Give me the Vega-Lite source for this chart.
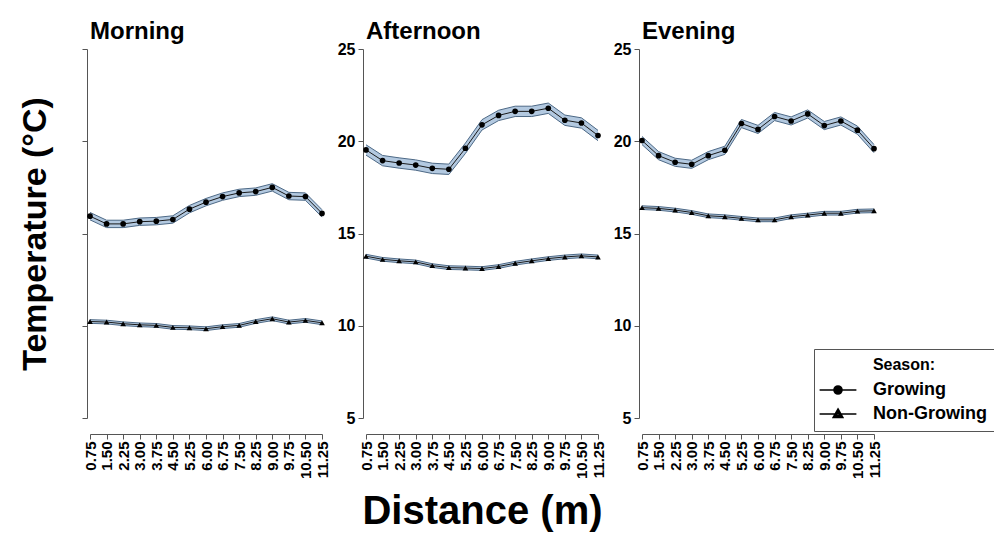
{
  "$schema": "https://vega.github.io/schema/vega-lite/v6.json",
  "padding": {"left": 18, "top": 19, "right": 0, "bottom": 0},
  "data": {"values": [
    {"p":"Morning","s":"Growing","d":0.75,"t":15.94,"e":0.2},
    {"p":"Morning","s":"Growing","d":1.5,"t":15.52,"e":0.2},
    {"p":"Morning","s":"Growing","d":2.25,"t":15.52,"e":0.2},
    {"p":"Morning","s":"Growing","d":3.0,"t":15.64,"e":0.2},
    {"p":"Morning","s":"Growing","d":3.75,"t":15.67,"e":0.2},
    {"p":"Morning","s":"Growing","d":4.5,"t":15.76,"e":0.2},
    {"p":"Morning","s":"Growing","d":5.25,"t":16.32,"e":0.2},
    {"p":"Morning","s":"Growing","d":6.0,"t":16.7,"e":0.2},
    {"p":"Morning","s":"Growing","d":6.75,"t":17.0,"e":0.2},
    {"p":"Morning","s":"Growing","d":7.5,"t":17.2,"e":0.2},
    {"p":"Morning","s":"Growing","d":8.25,"t":17.27,"e":0.2},
    {"p":"Morning","s":"Growing","d":9.0,"t":17.5,"e":0.2},
    {"p":"Morning","s":"Growing","d":9.75,"t":17.03,"e":0.2},
    {"p":"Morning","s":"Growing","d":10.5,"t":17.0,"e":0.2},
    {"p":"Morning","s":"Growing","d":11.25,"t":16.09,"e":0.2},
    {"p":"Morning","s":"Non-Growing","d":0.75,"t":10.23,"e":0.1},
    {"p":"Morning","s":"Non-Growing","d":1.5,"t":10.2,"e":0.1},
    {"p":"Morning","s":"Non-Growing","d":2.25,"t":10.11,"e":0.1},
    {"p":"Morning","s":"Non-Growing","d":3.0,"t":10.05,"e":0.1},
    {"p":"Morning","s":"Non-Growing","d":3.75,"t":10.02,"e":0.1},
    {"p":"Morning","s":"Non-Growing","d":4.5,"t":9.91,"e":0.1},
    {"p":"Morning","s":"Non-Growing","d":5.25,"t":9.89,"e":0.1},
    {"p":"Morning","s":"Non-Growing","d":6.0,"t":9.84,"e":0.1},
    {"p":"Morning","s":"Non-Growing","d":6.75,"t":9.95,"e":0.1},
    {"p":"Morning","s":"Non-Growing","d":7.5,"t":10.02,"e":0.1},
    {"p":"Morning","s":"Non-Growing","d":8.25,"t":10.23,"e":0.1},
    {"p":"Morning","s":"Non-Growing","d":9.0,"t":10.38,"e":0.1},
    {"p":"Morning","s":"Non-Growing","d":9.75,"t":10.2,"e":0.1},
    {"p":"Morning","s":"Non-Growing","d":10.5,"t":10.29,"e":0.1},
    {"p":"Morning","s":"Non-Growing","d":11.25,"t":10.16,"e":0.1},
    {"p":"Afternoon","s":"Growing","d":0.75,"t":19.53,"e":0.28},
    {"p":"Afternoon","s":"Growing","d":1.5,"t":18.95,"e":0.28},
    {"p":"Afternoon","s":"Growing","d":2.25,"t":18.82,"e":0.28},
    {"p":"Afternoon","s":"Growing","d":3.0,"t":18.71,"e":0.28},
    {"p":"Afternoon","s":"Growing","d":3.75,"t":18.53,"e":0.28},
    {"p":"Afternoon","s":"Growing","d":4.5,"t":18.48,"e":0.28},
    {"p":"Afternoon","s":"Growing","d":5.25,"t":19.62,"e":0.28},
    {"p":"Afternoon","s":"Growing","d":6.0,"t":20.89,"e":0.28},
    {"p":"Afternoon","s":"Growing","d":6.75,"t":21.4,"e":0.28},
    {"p":"Afternoon","s":"Growing","d":7.5,"t":21.62,"e":0.28},
    {"p":"Afternoon","s":"Growing","d":8.25,"t":21.62,"e":0.28},
    {"p":"Afternoon","s":"Growing","d":9.0,"t":21.79,"e":0.28},
    {"p":"Afternoon","s":"Growing","d":9.75,"t":21.14,"e":0.28},
    {"p":"Afternoon","s":"Growing","d":10.5,"t":20.99,"e":0.28},
    {"p":"Afternoon","s":"Growing","d":11.25,"t":20.31,"e":0.28},
    {"p":"Afternoon","s":"Non-Growing","d":0.75,"t":13.77,"e":0.1},
    {"p":"Afternoon","s":"Non-Growing","d":1.5,"t":13.6,"e":0.1},
    {"p":"Afternoon","s":"Non-Growing","d":2.25,"t":13.52,"e":0.1},
    {"p":"Afternoon","s":"Non-Growing","d":3.0,"t":13.46,"e":0.1},
    {"p":"Afternoon","s":"Non-Growing","d":3.75,"t":13.26,"e":0.1},
    {"p":"Afternoon","s":"Non-Growing","d":4.5,"t":13.15,"e":0.1},
    {"p":"Afternoon","s":"Non-Growing","d":5.25,"t":13.13,"e":0.1},
    {"p":"Afternoon","s":"Non-Growing","d":6.0,"t":13.1,"e":0.1},
    {"p":"Afternoon","s":"Non-Growing","d":6.75,"t":13.21,"e":0.1},
    {"p":"Afternoon","s":"Non-Growing","d":7.5,"t":13.39,"e":0.1},
    {"p":"Afternoon","s":"Non-Growing","d":8.25,"t":13.52,"e":0.1},
    {"p":"Afternoon","s":"Non-Growing","d":9.0,"t":13.64,"e":0.1},
    {"p":"Afternoon","s":"Non-Growing","d":9.75,"t":13.73,"e":0.1},
    {"p":"Afternoon","s":"Non-Growing","d":10.5,"t":13.79,"e":0.1},
    {"p":"Afternoon","s":"Non-Growing","d":11.25,"t":13.73,"e":0.1},
    {"p":"Evening","s":"Growing","d":0.75,"t":20.04,"e":0.22},
    {"p":"Evening","s":"Growing","d":1.5,"t":19.22,"e":0.22},
    {"p":"Evening","s":"Growing","d":2.25,"t":18.86,"e":0.22},
    {"p":"Evening","s":"Growing","d":3.0,"t":18.75,"e":0.22},
    {"p":"Evening","s":"Growing","d":3.75,"t":19.22,"e":0.22},
    {"p":"Evening","s":"Growing","d":4.5,"t":19.51,"e":0.22},
    {"p":"Evening","s":"Growing","d":5.25,"t":20.96,"e":0.22},
    {"p":"Evening","s":"Growing","d":6.0,"t":20.64,"e":0.22},
    {"p":"Evening","s":"Growing","d":6.75,"t":21.34,"e":0.22},
    {"p":"Evening","s":"Growing","d":7.5,"t":21.1,"e":0.22},
    {"p":"Evening","s":"Growing","d":8.25,"t":21.48,"e":0.22},
    {"p":"Evening","s":"Growing","d":9.0,"t":20.85,"e":0.22},
    {"p":"Evening","s":"Growing","d":9.75,"t":21.1,"e":0.22},
    {"p":"Evening","s":"Growing","d":10.5,"t":20.6,"e":0.22},
    {"p":"Evening","s":"Growing","d":11.25,"t":19.6,"e":0.22},
    {"p":"Evening","s":"Non-Growing","d":0.75,"t":16.4,"e":0.1},
    {"p":"Evening","s":"Non-Growing","d":1.5,"t":16.36,"e":0.1},
    {"p":"Evening","s":"Non-Growing","d":2.25,"t":16.27,"e":0.1},
    {"p":"Evening","s":"Non-Growing","d":3.0,"t":16.14,"e":0.1},
    {"p":"Evening","s":"Non-Growing","d":3.75,"t":15.96,"e":0.1},
    {"p":"Evening","s":"Non-Growing","d":4.5,"t":15.91,"e":0.1},
    {"p":"Evening","s":"Non-Growing","d":5.25,"t":15.82,"e":0.1},
    {"p":"Evening","s":"Non-Growing","d":6.0,"t":15.74,"e":0.1},
    {"p":"Evening","s":"Non-Growing","d":6.75,"t":15.74,"e":0.1},
    {"p":"Evening","s":"Non-Growing","d":7.5,"t":15.91,"e":0.1},
    {"p":"Evening","s":"Non-Growing","d":8.25,"t":16.0,"e":0.1},
    {"p":"Evening","s":"Non-Growing","d":9.0,"t":16.1,"e":0.1},
    {"p":"Evening","s":"Non-Growing","d":9.75,"t":16.1,"e":0.1},
    {"p":"Evening","s":"Non-Growing","d":10.5,"t":16.21,"e":0.1},
    {"p":"Evening","s":"Non-Growing","d":11.25,"t":16.23,"e":0.1}
  ]},
  "spacing": 44,
  "bounds": "flush",
  "resolve": {"scale": {"shape": "independent"}, "legend": {"shape": "independent"}},
  "hconcat": [
    {
      "width": 232, "height": 369,
      "title": "Morning",
      "transform": [{"filter": "datum.p === 'Morning'"}],
      "encoding": {
        "x": {"field": "d", "type": "quantitative", "scale": {"domain": [0.75, 11.25], "nice": false, "zero": false},
              "axis": {"title": null, "values": [0.75,1.5,2.25,3,3.75,4.5,5.25,6,6.75,7.5,8.25,9,9.75,10.5,11.25], "format": ".2f"}},
        "y": {"field": "t", "type": "quantitative", "scale": {"domain": [5, 25], "nice": false, "zero": false},
              "axis": {"title": "Temperature (°C)", "labelOpacity": 0, "values": [5,10,15,20,25], "titleFontSize": 34, "titlePadding": 9}}
      },
      "layer": [
        {"mark": {"type": "errorband", "band": {"color": "#b3c9e0", "opacity": 1}, "borders": {"color": "#4d6986", "strokeWidth": 1, "opacity": 1}},
         "encoding": {"yError": {"field": "e"}, "detail": {"field": "s"}}},
        {"mark": {"type": "line", "color": "#1a1a1a", "strokeWidth": 1}, "encoding": {"detail": {"field": "s"}}},
        {"mark": {"type": "point", "filled": true, "color": "black", "size": 32, "opacity": 1},
         "encoding": {"shape": {"field": "s", "type": "nominal", "scale": {"domain": ["Growing", "Non-Growing"], "range": ["circle", "triangle-up"]}, "legend": null}}}
      ]
    },
    {
      "width": 232, "height": 369,
      "title": "Afternoon",
      "transform": [{"filter": "datum.p === 'Afternoon'"}],
      "encoding": {
        "x": {"field": "d", "type": "quantitative", "scale": {"domain": [0.75, 11.25], "nice": false, "zero": false},
              "axis": {"title": "Distance (m)", "titleFontSize": 40, "titlePadding": 13, "values": [0.75,1.5,2.25,3,3.75,4.5,5.25,6,6.75,7.5,8.25,9,9.75,10.5,11.25], "format": ".2f"}},
        "y": {"field": "t", "type": "quantitative", "scale": {"domain": [5, 25], "nice": false, "zero": false},
              "axis": {"title": null, "values": [5,10,15,20,25]}}
      },
      "layer": [
        {"mark": {"type": "errorband", "band": {"color": "#b3c9e0", "opacity": 1}, "borders": {"color": "#4d6986", "strokeWidth": 1, "opacity": 1}},
         "encoding": {"yError": {"field": "e"}, "detail": {"field": "s"}}},
        {"mark": {"type": "line", "color": "#1a1a1a", "strokeWidth": 1}, "encoding": {"detail": {"field": "s"}}},
        {"mark": {"type": "point", "filled": true, "color": "black", "size": 32, "opacity": 1},
         "encoding": {"shape": {"field": "s", "type": "nominal", "scale": {"domain": ["Growing", "Non-Growing"], "range": ["circle", "triangle-up"]}, "legend": null}}}
      ]
    },
    {
      "width": 232, "height": 369,
      "title": "Evening",
      "transform": [{"filter": "datum.p === 'Evening'"}],
      "encoding": {
        "x": {"field": "d", "type": "quantitative", "scale": {"domain": [0.75, 11.25], "nice": false, "zero": false},
              "axis": {"title": null, "values": [0.75,1.5,2.25,3,3.75,4.5,5.25,6,6.75,7.5,8.25,9,9.75,10.5,11.25], "format": ".2f"}},
        "y": {"field": "t", "type": "quantitative", "scale": {"domain": [5, 25], "nice": false, "zero": false},
              "axis": {"title": null, "values": [5,10,15,20,25]}}
      },
      "resolve": {"scale": {"shape": "independent"}, "legend": {"shape": "independent"}},
      "layer": [
        {"mark": {"type": "errorband", "band": {"color": "#b3c9e0", "opacity": 1}, "borders": {"color": "#4d6986", "strokeWidth": 1, "opacity": 1}},
         "encoding": {"yError": {"field": "e"}, "detail": {"field": "s"}}},
        {"mark": {"type": "line", "color": "#1a1a1a", "strokeWidth": 1}, "encoding": {"detail": {"field": "s"}}},
        {"mark": {"type": "point", "filled": true, "color": "black", "size": 32, "opacity": 1},
         "encoding": {"shape": {"field": "s", "type": "nominal", "scale": {"domain": ["Growing", "Non-Growing"], "range": ["circle", "triangle-up"]}, "legend": null}}},
        {"transform": [{"filter": "false"}],
         "mark": {"type": "point", "filled": false, "color": "black", "strokeWidth": 1.6, "size": 64, "opacity": 1},
         "encoding": {"shape": {"field": "s", "type": "nominal", "scale": {"domain": ["Growing", "Non-Growing"], "range": ["M-1,0A1,1,0,1,1,1,0A1,1,0,1,1,-1,0ZM-0.7,0A0.7,0.7,0,1,1,0.7,0A0.7,0.7,0,1,1,-0.7,0ZM-0.4,0A0.4,0.4,0,1,1,0.4,0A0.4,0.4,0,1,1,-0.4,0ZM-0.15,0A0.15,0.15,0,1,1,0.15,0A0.15,0.15,0,1,1,-0.15,0ZM-4.6,0H4.6", "M0,-1.25L1.2,0.85L-1.2,0.85ZM0,-0.5L0.5,0.45L-0.5,0.45ZM-4.6,0H4.6"]},
           "legend": {"title": "Season:", "orient": "none", "legendX": 172, "legendY": 300,
             "titleFontSize": 16, "titleFontWeight": "bold", "titleColor": "black", "titleAnchor": "middle", "titlePadding": 8,
             "labelFontSize": 18, "labelFontWeight": "bold", "labelColor": "black",
             "strokeColor": "#555555", "fillColor": "white", "padding": 8, "symbolSize": 64, "symbolOffset": 7, "labelOffset": 26, "rowPadding": 6,
             "symbolStrokeColor": "black", "symbolStrokeWidth": 1.6, "symbolFillColor": "black"}}}}
      ]
    }
  ],
  "config": {
    "font": "Liberation Sans",
    "view": {"stroke": null},
    "axis": {"grid": false, "domainColor": "#555555", "tickColor": "#555555", "labelColor": "black", "labelFontWeight": "bold", "labelFontSize": 16, "titleFontWeight": "bold", "titleColor": "black", "tickSize": 5},
    "axisY": {"offset": 3, "labelPadding": 3},
    "axisX": {"offset": 16, "labelAngle": -90, "labelFontSize": 15, "labelOverlap": false, "labelFlush": false, "labelPadding": 2},
    "title": {"anchor": "start", "fontSize": 24, "fontWeight": "bold", "color": "black", "frame": "group", "offset": -2.5}
  }
}
